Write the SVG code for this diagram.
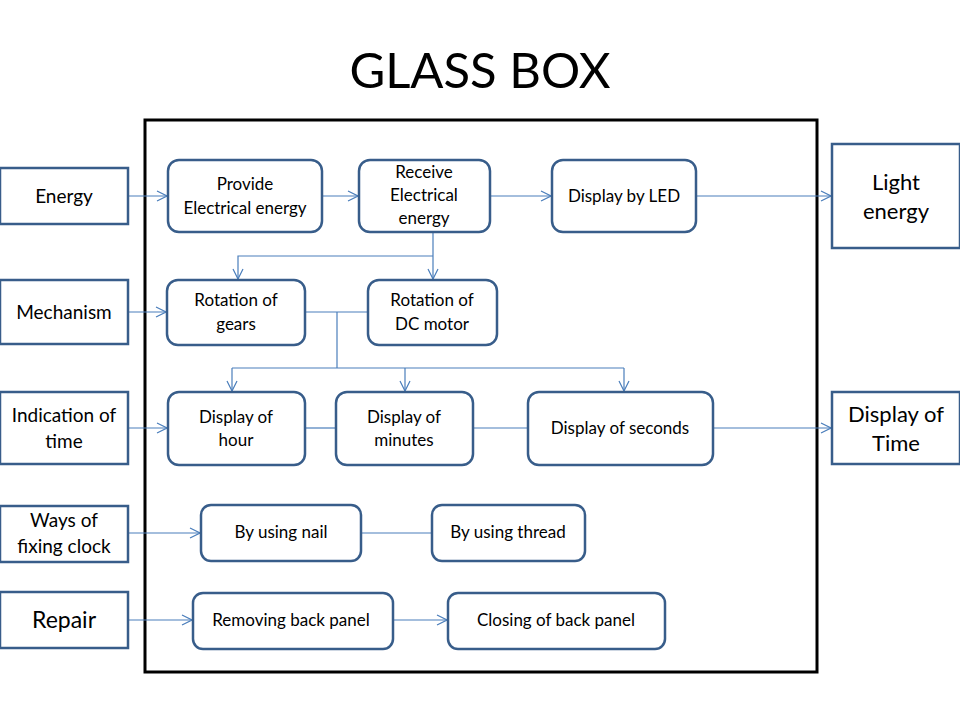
<svg xmlns="http://www.w3.org/2000/svg" width="960" height="720" viewBox="0 0 960 720">
<style>
.t{font-family:Lato,"Liberation Sans",sans-serif;font-size:17px;fill:#000;text-anchor:middle}
.l{font-size:19px}
.big{font-size:22px}
.rep{font-size:23px}
.title{font-family:Lato,"Liberation Sans",sans-serif;font-size:49px;fill:#000;text-anchor:middle}
.sq{fill:#fff;stroke:#385d8a;stroke-width:2.5}
.rn{fill:#fff;stroke:#385d8a;stroke-width:2.5}
.c{fill:none;stroke:#4a7ebb;stroke-width:1.2}
</style>
<defs>
<marker id="a" viewBox="0 0 12 12" refX="11" refY="6" markerWidth="12" markerHeight="12" markerUnits="userSpaceOnUse" orient="auto">
<path d="M1,1 L11,6 L1,11" fill="none" stroke="#4a7ebb" stroke-width="1.2"/>
</marker>
</defs>
<rect width="960" height="720" fill="#fff"/>
<text class="title" x="480" y="88">GLASS BOX</text>
<rect id="glassbox" x="145" y="120" width="672" height="552" fill="none" stroke="#000" stroke-width="3"/>
<g id="connectors">
<path class="c" d="M128,196 H167" marker-end="url(#a)"/>
<path class="c" d="M322,196 H358" marker-end="url(#a)"/>
<path class="c" d="M490,196 H551" marker-end="url(#a)"/>
<path class="c" d="M696,196 H831" marker-end="url(#a)"/>
<path class="c" d="M433,232 V279" marker-end="url(#a)"/>
<path class="c" d="M433,256 H238 V279" marker-end="url(#a)"/>
<path class="c" d="M128,312 H166" marker-end="url(#a)"/>
<path class="c" d="M305,312 H368"/>
<path class="c" d="M337,312 V368"/>
<path class="c" d="M232,368 H624"/>
<path class="c" d="M232,368 V391" marker-end="url(#a)"/>
<path class="c" d="M405,368 V391" marker-end="url(#a)"/>
<path class="c" d="M624,368 V391" marker-end="url(#a)"/>
<path class="c" d="M128,428 H167" marker-end="url(#a)"/>
<path class="c" d="M305,428 H336"/>
<path class="c" d="M473,428 H528"/>
<path class="c" d="M713,428 H831" marker-end="url(#a)"/>
<path class="c" d="M128,533 H200" marker-end="url(#a)"/>
<path class="c" d="M361,533 H432"/>
<path class="c" d="M128,620 H192" marker-end="url(#a)"/>
<path class="c" d="M393,620 H447" marker-end="url(#a)"/>
</g>
<g id="energy"><rect class="sq" x="0" y="168" width="128" height="56"/><text class="t l" x="64" y="203">Energy</text></g>
<g id="mechanism"><rect class="sq" x="0" y="280" width="128" height="64"/><text class="t l" x="64" y="319">Mechanism</text></g>
<g id="indication"><rect class="sq" x="0" y="392" width="128" height="72"/><text class="t l" x="64" y="422">Indication of</text><text class="t l" x="64" y="448">time</text></g>
<g id="ways"><rect class="sq" x="0" y="506" width="128" height="56"/><text class="t l" x="64" y="527">Ways of</text><text class="t l" x="64" y="553">fixing clock</text></g>
<g id="repair"><rect class="sq" x="0" y="592" width="128" height="56"/><text class="t rep" x="64" y="628">Repair</text></g>
<g id="light"><rect class="sq" x="832" y="144" width="128" height="104"/><text class="t big" x="896" y="190">Light</text><text class="t big" x="896" y="219">energy</text></g>
<g id="displaytime"><rect class="sq" x="832" y="392" width="128" height="72"/><text class="t big" x="896" y="422">Display of</text><text class="t big" x="896" y="451">Time</text></g>
<g id="provide"><rect class="rn" x="168" y="160" width="154" height="72" rx="11"/><text class="t" x="245" y="190">Provide</text><text class="t" x="245" y="214">Electrical energy</text></g>
<g id="receive"><rect class="rn" x="359" y="160" width="131" height="72" rx="11"/><text class="t" x="424" y="178">Receive</text><text class="t" x="424" y="201">Electrical</text><text class="t" x="424" y="224">energy</text></g>
<g id="led"><rect class="rn" x="552" y="160" width="144" height="72" rx="11"/><text class="t" x="624" y="202">Display by LED</text></g>
<g id="gears"><rect class="rn" x="167" y="280" width="138" height="65" rx="11"/><text class="t" x="236" y="306">Rotation of</text><text class="t" x="236" y="330">gears</text></g>
<g id="dcmotor"><rect class="rn" x="368" y="280" width="129" height="65" rx="11"/><text class="t" x="432" y="306">Rotation of</text><text class="t" x="432" y="330">DC motor</text></g>
<g id="hour"><rect class="rn" x="168" y="392" width="137" height="73" rx="11"/><text class="t" x="236" y="423">Display of</text><text class="t" x="236" y="446">hour</text></g>
<g id="minutes"><rect class="rn" x="336" y="392" width="137" height="73" rx="11"/><text class="t" x="404" y="423">Display of</text><text class="t" x="404" y="446">minutes</text></g>
<g id="seconds"><rect class="rn" x="528" y="392" width="185" height="73" rx="11"/><text class="t" x="620" y="434">Display of seconds</text></g>
<g id="nail"><rect class="rn" x="201" y="505" width="160" height="56" rx="10"/><text class="t" x="281" y="538">By using nail</text></g>
<g id="thread"><rect class="rn" x="432" y="505" width="153" height="56" rx="10"/><text class="t" x="508" y="538">By using thread</text></g>
<g id="removing"><rect class="rn" x="193" y="593" width="200" height="56" rx="10"/><text class="t" x="291" y="626">Removing back panel</text></g>
<g id="closing"><rect class="rn" x="448" y="593" width="217" height="56" rx="10"/><text class="t" x="556" y="626">Closing of back panel</text></g>
</svg>
